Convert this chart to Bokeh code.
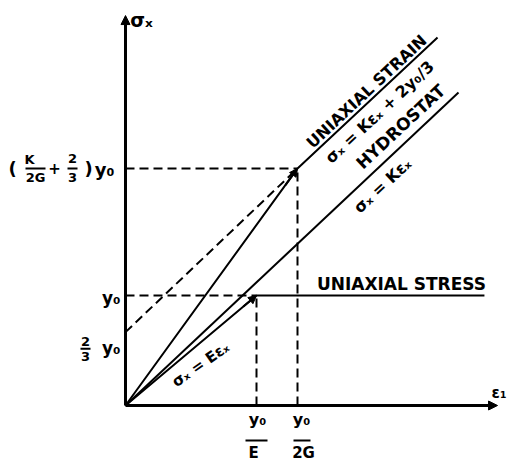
from bokeh.plotting import figure
from bokeh.models import Range1d, Label, Arrow, NormalHead
from bokeh.embed import file_html
from bokeh.resources import INLINE

# ---------------- data (units: strain in y0/E, stress in y0) ----------------
Y0 = 1.0                 # yield stress level  y0
Y_TWO_THIRDS = 0.667     # 2/3 y0 intercept of the offset line
Y_TOP = 2.155            # (K/2G + 2/3) y0
X_E = 1.0                # y0/E
X_2G = 1.313             # y0/2G

strain_x = [0.0, 1.313, 2.382]      # uniaxial strain path
strain_y = [0.0, 2.155, 3.345]
hydro_x = [0.0, 2.542]              # hydrostat
hydro_y = [0.0, 2.845]
stress_x = [0.0, 1.0, 2.740]        # uniaxial stress path
stress_y = [0.0, 1.0, 1.0]
offset_x = [0.0, 1.313]             # dashed line sigma = K eps + 2 y0/3
offset_y = [0.667, 2.155]
axis_x_end = 2.840
axis_y_end = 3.545

# ---------------- layout ----------------
W, H = 508, 463
PXX, PXY = 131.0, 110.0            # pixels per data unit
OX, OY = 125.0, 58.0               # origin position inside the figure (from left, from bottom)

p = figure(width=W, height=H, output_backend="svg", toolbar_location=None,
           x_range=Range1d(-OX / PXX, (W - OX) / PXX),
           y_range=Range1d(-OY / PXY, (H - OY) / PXY),
           min_border=0, outline_line_color=None)
p.axis.visible = False
p.grid.visible = False
p.background_fill_color = "white"
p.border_fill_color = "white"

FONT = "DejaVu Sans"

def lbl(text, x, y, xo=0, yo=0, size=16, angle=0.0, align="center", baseline="middle"):
    p.add_layout(Label(x=x, y=y, x_offset=xo, y_offset=yo, text=text,
                       text_font=FONT, text_font_style="bold",
                       text_font_size=f"{size}px", text_color="black",
                       angle=angle, angle_units="deg",
                       text_align=align, text_baseline=baseline))

def bar(x0, x1, y):
    p.line([x0, x1], [y, y], line_width=2, color="black")

# axes with arrows
p.add_layout(Arrow(end=NormalHead(size=9, fill_color="black", line_color="black"),
                   x_start=0, y_start=0, x_end=0, y_end=axis_y_end,
                   line_width=3, line_color="black"))
p.add_layout(Arrow(end=NormalHead(size=9, fill_color="black", line_color="black"),
                   x_start=0, y_start=0, x_end=axis_x_end, y_end=0,
                   line_width=3, line_color="black"))

# solid paths
p.line(strain_x, strain_y, line_width=2, color="black")
p.line(hydro_x, hydro_y, line_width=2, color="black")
p.line(stress_x, stress_y, line_width=2, color="black")

# dashed construction lines
DASH = "9 5"
p.line(offset_x, offset_y, line_width=2, color="black", line_dash=DASH)
p.line([0, X_E], [Y0, Y0], line_width=2, color="black", line_dash=DASH)
p.line([0, X_2G], [Y_TOP, Y_TOP], line_width=2, color="black", line_dash=DASH)
p.line([X_E, X_E], [0, Y0], line_width=2, color="black", line_dash=DASH)
p.line([X_2G, X_2G], [0, Y_TOP], line_width=2, color="black", line_dash=DASH)

# small arrowheads at the yield points
p.add_layout(Arrow(end=NormalHead(size=8, fill_color="black", line_color="black"),
                   x_start=stress_x[1] * 0.9, y_start=stress_y[1] * 0.9,
                   x_end=stress_x[1], y_end=stress_y[1], line_width=2))
p.add_layout(Arrow(end=NormalHead(size=8, fill_color="black", line_color="black"),
                   x_start=strain_x[1] * 0.93, y_start=strain_y[1] * 0.93,
                   x_end=strain_x[1], y_end=strain_y[1], line_width=2))

# axis titles
lbl("σₓ", 0, axis_y_end, xo=16, yo=-4, size=19)
lbl("ε₁", axis_x_end, 0, xo=-6, yo=13, size=15, align="left")

# y-axis marks
lbl("y₀", 0, Y0, xo=-5, yo=-2, size=17, align="right")
lbl("2", 0, Y_TWO_THIRDS, xo=-40, yo=-9, size=13)
bar(-45 / PXX, -35 / PXX, Y_TWO_THIRDS - 16.5 / PXY)
lbl("3", 0, Y_TWO_THIRDS, xo=-40, yo=-24, size=13)
lbl("y₀", 0, Y_TWO_THIRDS, xo=-5, yo=-16, size=17, align="right")

lbl("(", 0, Y_TOP, xo=-113, yo=0, size=18)
lbl("K", 0, Y_TOP, xo=-96, yo=9, size=13)
bar(-100 / PXX, -80 / PXX, Y_TOP)
lbl("2G", 0, Y_TOP, xo=-90, yo=-9, size=13)
lbl("+", 0, Y_TOP, xo=-71, yo=0, size=15)
lbl("2", 0, Y_TOP, xo=-53, yo=10, size=13)
bar(-58 / PXX, -48 / PXX, Y_TOP)
lbl("3", 0, Y_TOP, xo=-53, yo=-9, size=13)
lbl(")", 0, Y_TOP, xo=-37, yo=0, size=18)
lbl("y₀", 0, Y_TOP, xo=-21, yo=-1, size=18)

# x-axis marks
lbl("y₀", X_E, 0, xo=1, yo=-14, size=16)
bar(X_E - 11 / PXX, X_E + 11 / PXX, -35 / PXY)
lbl("E", X_E, 0, xo=-3, yo=-47, size=15)
lbl("y₀", X_2G, 0, xo=4, yo=-14, size=16)
bar(X_2G - 4 / PXX, X_2G + 13 / PXX, -35 / PXY)
lbl("2G", X_2G, 0, xo=6, yo=-47, size=15)

# curve annotations
lbl("UNIAXIAL STRESS", stress_x[2], stress_y[2], xo=-83, yo=12, size=17)
lbl("UNIAXIAL STRAIN", 1.84, 2.855, size=16, angle=43)
lbl("σₓ = Kεₓ + 2y₀/3", 1.94, 2.668, size=16, angle=43)
lbl("HYDROSTAT", 2.10, 2.535, size=17, angle=43)
lbl("σₓ = Kεₓ", 1.962, 2.0, size=16, angle=43)
lbl("σₓ = Eεₓ", 0.573, 0.373, size=15, angle=35)

open("out.html", "w").write(file_html(p, INLINE))
